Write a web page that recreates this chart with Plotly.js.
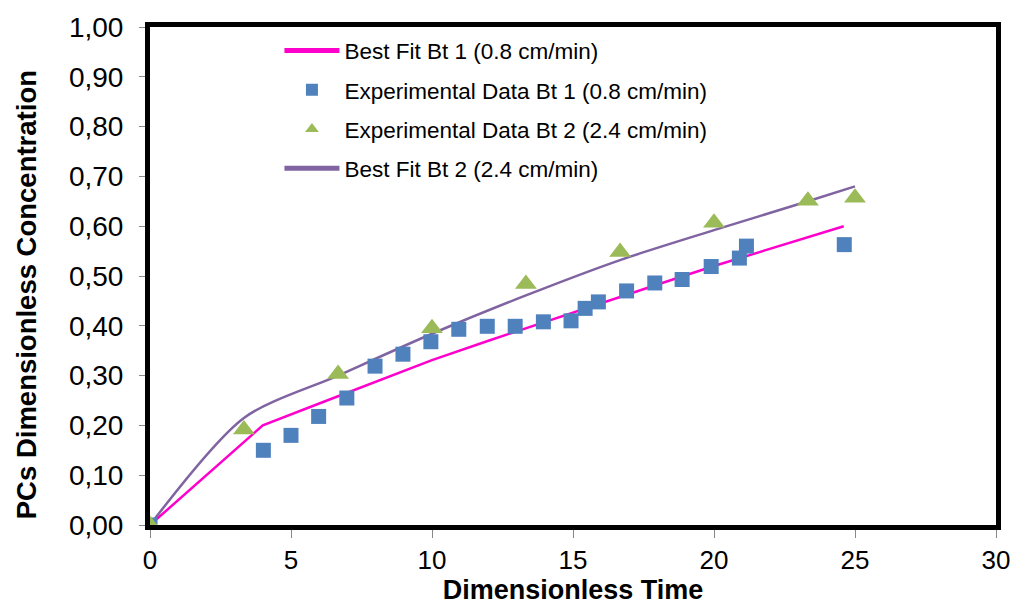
<!DOCTYPE html>
<html>
<head>
<meta charset="utf-8">
<script src="https://cdn.plot.ly/plotly-3.0.1.min.js"></script>
<style>html,body{margin:0;padding:0;background:#fff;}#chart{width:1017px;height:606px;}</style>
</head>
<body>
<div id="chart"></div>
<script>
// Experimental Data Bt 1 (0.8 cm/min)
var expBt1X = [0, 4.02, 5.0, 5.98, 6.98, 7.98, 8.97, 9.96, 10.95, 11.96, 12.95, 13.95, 14.93, 15.43, 15.9, 16.9, 17.9, 18.87, 19.9, 20.9, 21.15, 24.62];
var expBt1Y = [0, 0.150, 0.180, 0.218, 0.255, 0.319, 0.343, 0.368, 0.393, 0.399, 0.399, 0.408, 0.410, 0.435, 0.448, 0.470, 0.486, 0.493, 0.519, 0.536, 0.560, 0.563];
// Experimental Data Bt 2 (2.4 cm/min)
var expBt2X = [0, 3.33, 6.67, 10.0, 13.33, 16.67, 20.0, 23.33, 25.0];
var expBt2Y = [0, 0.192, 0.303, 0.395, 0.484, 0.548, 0.607, 0.651, 0.657];
// Best Fit Bt 1 (0.8 cm/min)
var fitBt1X = [0, 4.0, 6.0, 8.0, 10.0, 12.0, 14.0, 16.0, 18.0, 20.0, 22.0, 24.6];
var fitBt1Y = [0, 0.200, 0.244, 0.287, 0.331, 0.370, 0.408, 0.446, 0.483, 0.520, 0.555, 0.600];
// Best Fit Bt 2 (2.4 cm/min)
var fitBt2X = [0, 3.33, 6.67, 10.0, 13.33, 16.67, 20.0, 23.33, 25.0];
var fitBt2Y = [0, 0.215, 0.300, 0.384, 0.461, 0.532, 0.592, 0.650, 0.680];

var names = ["Best Fit Bt 1 (0.8 cm/min)", "Experimental Data Bt 1 (0.8 cm/min)", "Experimental Data Bt 2 (2.4 cm/min)", "Best Fit Bt 2 (2.4 cm/min)"];
var xTicks = [0, 5, 10, 15, 20, 25, 30];
var yTicks = [0, 0.1, 0.2, 0.3, 0.4, 0.5, 0.6, 0.7, 0.8, 0.9, 1.0];
var xTitle = 'Dimensionless Time';
var yTitle = 'PCs Dimensionless Concentration';

var data = [
  {x: fitBt1X, y: fitBt1Y, name: names[0], type: 'scatter', mode: 'lines', legendrank: 1, legendgroup: 'g1',
   line: {color: '#FF00CC', width: 2.5}},
  {x: fitBt2X, y: fitBt2Y, name: names[3], type: 'scatter', mode: 'lines', legendrank: 4, legendgroup: 'g4',
   line: {color: '#8064A2', width: 2.5, shape: 'spline', smoothing: 0.8}},
  {x: expBt1X, y: expBt1Y, name: names[1], type: 'scatter', mode: 'markers', legendrank: 2, legendgroup: 'g2',
   marker: {symbol: 'square', size: 15, color: '#4F81BD'}},
  {x: expBt2X, y: expBt2Y, name: names[2], type: 'scatter', mode: 'markers', legendrank: 3, legendgroup: 'g3',
   marker: {symbol: 'triangle-up', size: 19, color: '#9BBB59'}}
];

var layout = {
  width: 1017, height: 606,
  margin: {l: 150, r: 21, t: 27, b: 81},
  paper_bgcolor: '#fff', plot_bgcolor: '#fff',
  separators: ', ',
  font: {family: 'Liberation Sans, Arial, sans-serif', color: '#000'},
  showlegend: true,
  legend: {x: 0.153, y: 0.995, xanchor: 'left', yanchor: 'top', bgcolor: 'rgba(0,0,0,0)',
           font: {size: 22.5, color: '#000'}, itemsizing: 'constant', itemwidth: 55, tracegroupgap: 7},
  xaxis: {range: [0, 30], tickvals: xTicks, ticktext: xTicks.map(String),
          showgrid: false, zeroline: false, showline: true, linecolor: '#000', linewidth: 5, mirror: true,
          ticks: 'outside', ticklen: 8, tickwidth: 1, tickcolor: '#888',
          tickfont: {size: 26, color: '#000'},
          title: {text: '<b>' + xTitle + '</b>', font: {size: 27, color: '#000'}, standoff: 4}},
  yaxis: {range: [0, 1], tickvals: yTicks, tickformat: '.2f',
          showgrid: false, zeroline: false, showline: true, linecolor: '#000', linewidth: 5, mirror: true,
          ticks: 'outside', ticklen: 6, tickwidth: 1, tickcolor: '#888', ticklabelstandoff: 10,
          tickfont: {size: 28, color: '#000'}},
  annotations: [{text: '<b>' + yTitle + '</b>', xref: 'paper', yref: 'paper', x: -0.145, y: 0.462,
                 xanchor: 'center', yanchor: 'middle', textangle: -90, showarrow: false,
                 font: {size: 27.5, color: '#000'}}]
};

Plotly.newPlot('chart', data, layout, {displayModeBar: false, staticPlot: true});
</script>
</body>
</html>
